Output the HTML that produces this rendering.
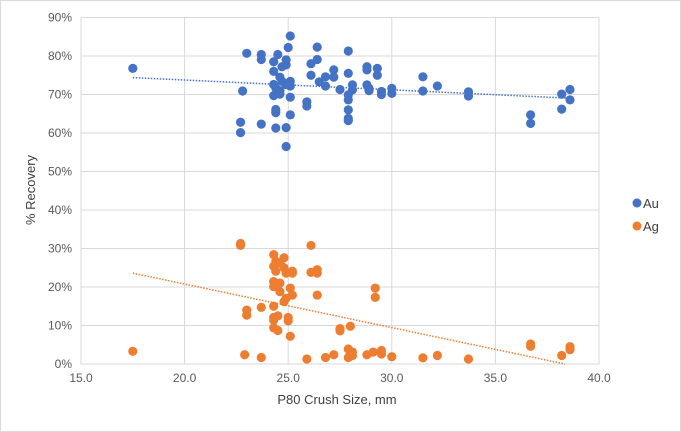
<!DOCTYPE html>
<html><head><meta charset="utf-8"><style>
body{margin:0;background:#fff}
svg{display:block;font-family:"Liberation Sans",sans-serif}
</style></head><body>
<svg id="c" width="681" height="432">
<rect x="0.5" y="0.5" width="680" height="431" fill="#fff" stroke="#d9d9d9"/>
<g id="grid"></g>
<g id="ticks" font-size="12" fill="#595959"></g>
<g id="trends"></g>
<g id="pts"></g>
<text x="337" y="404" text-anchor="middle" font-size="13" fill="#404040">P80 Crush Size, mm</text>
<text transform="translate(35,190) rotate(-90)" text-anchor="middle" font-size="13" fill="#404040">% Recovery</text>
<g>
<circle cx="637" cy="203" r="4.5" fill="#4472c4"/>
<text x="643" y="208" font-size="13" fill="#404040">Au</text>
<circle cx="637" cy="226" r="4.5" fill="#ed7d31"/>
<text x="643" y="231" font-size="13" fill="#404040">Ag</text>
</g>
</svg>
<script>
const xTicks=[15,20,25,30,35,40];
const xTickLabels=["15.0","20.0","25.0","30.0","35.0","40.0"];
const yTicks=[0,10,20,30,40,50,60,70,80,90];
const yTickLabels=["0%","10%","20%","30%","40%","50%","60%","70%","80%","90%"];
const auX=[17.5,23.0,23.7,23.7,24.5,25.0,25.1,24.3,24.9,24.9,24.7,24.3,26.4,26.4,26.1,27.9,27.9,26.1,27.2,27.2,26.8,26.5,26.8,24.6,24.7,25.1,24.3,24.9,24.4,25.1,24.6,24.3,24.6,22.8,27.5,28.1,28.1,27.9,27.9,28.8,28.8,29.3,29.3,28.8,28.9,28.9,29.5,29.5,30.0,30.0,31.5,31.5,32.2,33.7,33.7,36.7,36.7,38.2,38.6,38.6,38.2,25.1,25.9,25.9,24.4,24.4,25.1,27.9,27.9,27.9,22.7,22.7,23.7,24.4,24.9,24.9];
const auY=[76.8,80.7,80.4,79.1,80.4,82.2,85.2,78.5,79.0,77.7,77.2,76.0,82.3,79.1,78.0,81.3,75.5,75.0,76.4,74.5,74.6,73.3,72.2,74.5,73.4,73.4,72.6,72.6,71.7,72.2,71.0,69.7,70.1,70.9,71.3,72.5,71.2,69.9,68.6,77.2,76.4,76.8,75.0,72.5,71.6,71.0,70.0,70.8,71.6,70.3,74.6,70.9,72.2,70.7,69.6,64.7,62.5,70.1,71.3,68.6,66.2,69.3,68.1,67.0,66.1,65.3,64.7,66.0,63.8,63.2,62.8,60.1,62.3,61.3,61.4,56.5];
const agX=[22.7,22.7,26.1,24.3,24.8,24.4,24.6,24.3,24.4,24.8,24.9,25.2,25.2,26.1,26.4,26.4,24.3,24.3,24.6,24.6,25.1,25.2,24.9,24.8,26.4,29.2,29.2,24.3,23.7,23.0,23.0,24.3,24.5,24.3,25.0,25.0,24.3,24.5,25.1,27.5,27.5,28.0,17.5,22.9,23.7,25.9,26.8,27.2,27.9,27.9,28.1,28.1,28.0,28.8,29.1,29.5,29.5,30.0,31.5,32.2,33.7,36.7,36.7,38.2,38.6,38.6];
const agY=[31.3,30.8,30.8,28.4,27.6,26.7,26.2,25.4,24.1,25.0,23.6,24.1,23.6,23.8,24.5,23.6,21.4,20.1,21.0,18.8,19.7,17.9,17.1,16.2,17.9,19.7,17.3,15.0,14.7,14.0,12.7,12.1,12.5,11.4,12.1,11.2,9.4,8.7,7.2,9.2,8.6,9.8,3.3,2.4,1.7,1.3,1.7,2.4,3.9,1.7,3.1,2.2,2.6,2.4,3.1,3.5,2.6,1.9,1.6,2.2,1.3,5.2,4.6,2.2,4.5,3.7];
const L=81,R=599,T=17.5,B=364,x0=15,x1=40,y0=0,y1=90;
const sx=v=>L+(v-x0)/(x1-x0)*(R-L);
const sy=v=>B-(v-y0)/(y1-y0)*(B-T);
const NS="http://www.w3.org/2000/svg";
function mk(tag,attrs,parent){const e=document.createElementNS(NS,tag);for(const k in attrs)e.setAttribute(k,attrs[k]);parent.appendChild(e);return e;}
const grid=document.getElementById('grid'),ticks=document.getElementById('ticks');
yTicks.forEach((t,i)=>{
 const l=mk('line',{x1:L,x2:R,y1:sy(t),y2:sy(t),stroke:'#d9d9d9'},grid);
 
 
 const tx=mk('text',{x:L-9,y:sy(t)+4,'text-anchor':'end'},ticks);tx.textContent=yTickLabels[i];
 
 
});
xTicks.forEach((t,i)=>{
 const l=mk('line',{x1:sx(t),x2:sx(t),y1:T,y2:B,stroke:'#d9d9d9'},grid);
 
 
 const tx=mk('text',{x:sx(t),y:B+18,'text-anchor':'middle'},ticks);tx.textContent=xTickLabels[i];
 
 
});
function fit(xs,ys){const n=xs.length;let mx=0,my=0;for(let i=0;i<n;i++){mx+=xs[i];my+=ys[i];}mx/=n;my/=n;let a=0,b=0;for(let i=0;i<n;i++){a+=(xs[i]-mx)*(ys[i]-my);b+=(xs[i]-mx)**2;}const m=a/b;return [m,my-m*mx];}
function trend(xs,ys,col,name){
 const [m,c]=fit(xs,ys);let xa=Math.min(...xs),xb=Math.max(...xs);
 if(m*xb+c<0)xb=-c/m;
 const l=mk('line',{x1:sx(xa),y1:sy(m*xa+c),x2:sx(xb),y2:sy(m*xb+c),stroke:col,'stroke-width':1.5,'stroke-dasharray':'1.5 1.5'},document.getElementById('trends'));
 
 
}
trend(auX,auY,'#4472c4','au-trendline');
trend(agX,agY,'#ed7d31','ag-trendline');
const pts=document.getElementById('pts');
auX.forEach((x,i)=>{const c=mk('circle',{cx:sx(x),cy:sy(auY[i]),r:4.6,fill:'#4472c4'},pts);
 
 });
agX.forEach((x,i)=>{const c=mk('circle',{cx:sx(x),cy:sy(agY[i]),r:4.6,fill:'#ed7d31'},pts);
 
 });
</script>
</body></html>
